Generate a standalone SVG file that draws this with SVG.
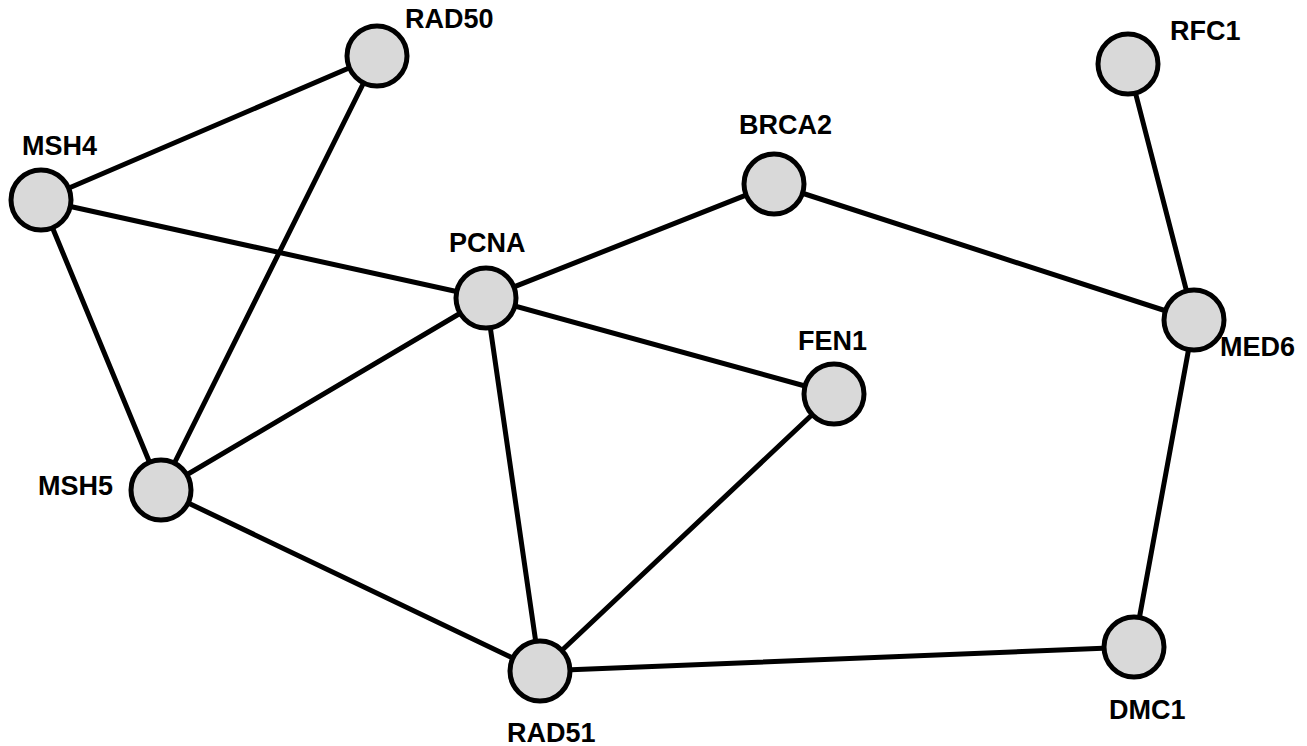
<svg xmlns="http://www.w3.org/2000/svg" width="1307" height="746" viewBox="0 0 1307 746">
  <style>
    .edge { stroke: #000; stroke-width: 5; fill: none; stroke-linecap: round; }
    .node circle { fill: #d9d9d9; stroke: #000; stroke-width: 5; }
    .node text { font-family: "Liberation Sans", Arial, sans-serif; font-weight: bold; font-size: 27px; fill: #000; }
  </style>
  <rect width="1307" height="746" fill="#fff"/>
  <g id="edges">
    <line class="edge" x1="377" y1="56" x2="41" y2="200"/>
    <line class="edge" x1="377" y1="56" x2="161" y2="490"/>
    <line class="edge" x1="41" y1="200" x2="486" y2="298"/>
    <line class="edge" x1="41" y1="200" x2="161" y2="490"/>
    <line class="edge" x1="486" y1="298" x2="774" y2="184"/>
    <line class="edge" x1="486" y1="298" x2="834" y2="394"/>
    <line class="edge" x1="486" y1="298" x2="161" y2="490"/>
    <line class="edge" x1="486" y1="298" x2="540" y2="671"/>
    <line class="edge" x1="774" y1="184" x2="1194" y2="320"/>
    <line class="edge" x1="1128" y1="64" x2="1194" y2="320"/>
    <line class="edge" x1="1194" y1="320" x2="1134" y2="647"/>
    <line class="edge" x1="834" y1="394" x2="540" y2="671"/>
    <line class="edge" x1="161" y1="490" x2="540" y2="671"/>
    <line class="edge" x1="540" y1="671" x2="1134" y2="647"/>
  </g>
  <g id="RAD50" class="node"><circle cx="377" cy="56" r="30"/><text x="405" y="28">RAD50</text></g>
  <g id="MSH4" class="node"><circle cx="41" cy="200" r="30"/><text x="22" y="155">MSH4</text></g>
  <g id="PCNA" class="node"><circle cx="486" cy="298" r="30"/><text x="449" y="252">PCNA</text></g>
  <g id="BRCA2" class="node"><circle cx="774" cy="184" r="30"/><text x="739" y="134">BRCA2</text></g>
  <g id="FEN1" class="node"><circle cx="834" cy="394" r="30"/><text x="798" y="350">FEN1</text></g>
  <g id="MSH5" class="node"><circle cx="161" cy="490" r="30"/><text x="38" y="495">MSH5</text></g>
  <g id="RAD51" class="node"><circle cx="540" cy="671" r="30"/><text x="507" y="742">RAD51</text></g>
  <g id="DMC1" class="node"><circle cx="1134" cy="647" r="30"/><text x="1109" y="719">DMC1</text></g>
  <g id="MED6" class="node"><circle cx="1194" cy="320" r="30"/><text x="1220" y="356">MED6</text></g>
  <g id="RFC1" class="node"><circle cx="1128" cy="64" r="30"/><text x="1170" y="40">RFC1</text></g>
</svg>
